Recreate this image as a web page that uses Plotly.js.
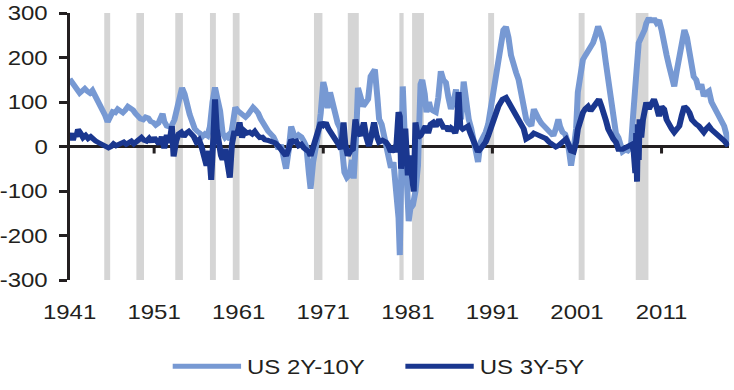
<!DOCTYPE html>
<html>
<head>
<meta charset="utf-8">
<script src="https://cdn.plot.ly/plotly-3.0.1.min.js"></script>
<style>
html,body{margin:0;padding:0;background:#fff;overflow:hidden;width:734px;height:390px;}
#chart{width:612px;height:390px;transform:scale(1.19935,1);transform-origin:0 0;}
</style>
</head>
<body>
<div id="chart"></div>
<script>
// ---- data (basis points) ----
const seriesNames = ["US 2Y-10Y", "US 3Y-5Y"];

const years2y10y = [1941.0,1941.3,1941.6,1941.9,1942.2,1942.5,1942.8,1943.1,1943.4,1943.7,1944.0,1944.3,1944.6,1944.9,1945.2,1945.5,1945.8,1946.1,1946.4,1946.7,1947.0,1947.3,1947.6,1947.9,1948.2,1948.5,1948.8,1949.1,1949.4,1949.7,1950.0,1950.3,1950.6,1950.9,1951.2,1951.5,1951.8,1952.0,1952.2,1952.5,1952.8,1953.1,1953.4,1953.7,1954.0,1954.3,1954.6,1954.9,1955.2,1955.5,1955.8,1956.1,1956.4,1956.7,1957.0,1957.3,1957.6,1957.9,1958.2,1958.5,1958.8,1959.1,1959.4,1959.7,1960.0,1960.3,1960.6,1960.9,1961.2,1961.5,1961.8,1962.1,1962.4,1962.7,1963.0,1963.3,1963.6,1963.9,1964.2,1964.5,1964.8,1965.1,1965.4,1965.7,1966.0,1966.3,1966.6,1966.9,1967.2,1967.5,1967.8,1968.1,1968.4,1968.7,1969.0,1969.3,1969.5,1969.8,1970.1,1970.4,1970.7,1971.0,1971.2,1971.5,1971.8,1972.1,1972.4,1972.7,1973.0,1973.3,1973.5,1973.8,1974.1,1974.4,1974.6,1974.9,1975.1,1975.4,1975.7,1976.0,1976.3,1976.6,1976.9,1977.1,1977.4,1977.6,1977.9,1978.2,1978.5,1978.8,1979.0,1979.3,1979.6,1979.9,1980.05,1980.2,1980.4,1980.6,1980.9,1981.1,1981.3,1981.6,1981.9,1982.2,1982.5,1982.7,1983.0,1983.2,1983.5,1983.7,1984.0,1984.3,1984.6,1984.9,1985.2,1985.5,1985.8,1986.1,1986.4,1986.7,1987.0,1987.3,1987.6,1987.9,1988.2,1988.5,1988.8,1989.1,1989.3,1989.6,1989.9,1990.2,1990.5,1990.8,1991.1,1991.4,1991.7,1992.0,1992.3,1992.6,1992.9,1993.2,1993.5,1993.8,1994.1,1994.4,1994.7,1995.0,1995.3,1995.6,1995.9,1996.2,1996.5,1996.8,1997.1,1997.4,1997.7,1998.0,1998.2,1998.5,1998.8,1999.0,1999.3,1999.6,1999.9,2000.1,2000.3,2000.6,2000.9,2001.1,2001.4,2001.7,2002.0,2002.3,2002.6,2002.9,2003.2,2003.5,2003.8,2004.1,2004.4,2004.7,2005.0,2005.3,2005.6,2005.9,2006.2,2006.4,2006.7,2007.0,2007.2,2007.4,2007.6,2007.8,2008.0,2008.3,2008.6,2008.8,2009.0,2009.2,2009.5,2009.8,2010.1,2010.4,2010.7,2011.0,2011.3,2011.6,2011.9,2012.2,2012.5,2012.8,2013.1,2013.4,2013.7,2014.0,2014.3,2014.6,2014.8,2015.1,2015.4,2015.7,2016.0,2016.3,2016.6,2016.9,2017.2,2017.5,2017.8,2018.1,2018.4,2018.7,2018.9];
const values2y10y = [152,145,135,128,120,125,130,124,120,126,115,108,95,85,70,55,64,78,76,84,80,76,82,90,86,82,74,66,62,60,66,64,56,54,48,52,62,74,56,46,44,48,60,85,112,132,118,92,72,56,40,34,30,22,28,24,45,100,133,106,80,30,20,25,15,50,88,80,74,68,66,72,80,88,82,75,62,52,40,34,28,22,10,-6,4,-22,-50,-10,45,28,18,26,22,12,0,-60,-95,-35,-8,28,75,145,130,86,122,100,70,52,40,-20,-58,-70,-64,-30,-72,30,132,112,90,98,106,158,170,173,110,62,50,22,8,-20,-48,-35,-100,-160,-244,-110,135,40,-72,-168,-140,-132,-101,-43,140,150,118,77,100,84,80,77,110,169,150,144,110,84,100,128,95,61,146,100,61,40,10,-10,-35,10,20,32,50,84,120,157,190,235,262,269,245,205,190,166,150,122,95,61,52,46,84,70,61,52,45,39,32,28,24,40,61,45,32,28,10,-15,-43,-6,40,122,160,195,205,213,225,233,250,270,255,233,190,144,100,61,30,20,-5,-12,-8,-10,-6,5,60,130,160,233,245,254,262,277,289,280,288,278,284,262,240,205,180,160,135,170,200,240,262,245,218,180,157,150,128,140,113,121,125,100,88,78,68,55,46,25,10];

const years3y5y = [1941.0,1941.2,1941.4,1941.6,1941.8,1942.0,1942.3,1942.6,1942.9,1943.2,1943.5,1943.8,1944.1,1944.4,1944.7,1945.0,1945.3,1945.6,1945.9,1946.2,1946.5,1946.8,1947.1,1947.4,1947.7,1948.0,1948.3,1948.6,1948.9,1949.2,1949.5,1949.8,1950.1,1950.4,1950.7,1951.0,1951.3,1951.6,1951.9,1952.2,1952.5,1952.8,1953.1,1953.3,1953.6,1953.9,1954.2,1954.5,1954.8,1955.1,1955.4,1955.7,1956.0,1956.3,1956.6,1956.9,1957.2,1957.5,1957.75,1958.0,1958.2,1958.4,1958.6,1958.9,1959.1,1959.4,1959.7,1959.95,1960.2,1960.5,1960.8,1961.1,1961.4,1961.7,1962.0,1962.3,1962.6,1962.9,1963.2,1963.5,1963.8,1964.1,1964.4,1964.7,1965.0,1965.3,1965.7,1966.0,1966.3,1966.6,1966.9,1967.2,1967.5,1967.8,1968.1,1968.4,1968.7,1969.0,1969.3,1969.5,1969.9,1970.2,1970.5,1970.7,1971.0,1971.3,1971.6,1971.9,1972.2,1972.5,1972.8,1973.1,1973.4,1973.6,1973.9,1974.2,1974.5,1974.8,1975.1,1975.4,1975.8,1976.1,1976.4,1976.7,1977.0,1977.3,1977.6,1978.0,1978.4,1978.7,1979.0,1979.3,1979.6,1979.9,1980.05,1980.2,1980.4,1980.7,1981.0,1981.2,1981.4,1981.7,1981.9,1982.2,1982.5,1982.8,1983.1,1983.4,1983.7,1984.0,1984.3,1984.7,1985.0,1985.3,1985.5,1985.8,1986.1,1986.3,1986.6,1986.8,1987.0,1987.2,1987.5,1987.8,1988.1,1988.4,1988.7,1989.0,1989.3,1989.6,1989.9,1990.2,1990.5,1990.8,1991.1,1991.4,1991.7,1992.0,1992.2,1992.6,1992.9,1993.2,1993.5,1993.8,1994.1,1994.4,1994.7,1995.0,1995.3,1995.6,1995.9,1996.1,1996.5,1997.0,1997.3,1997.7,1998.2,1998.5,1998.8,1999.1,1999.4,1999.7,2000.0,2000.3,2000.6,2000.9,2001.1,2001.4,2001.7,2002.0,2002.3,2002.6,2003.0,2003.3,2003.6,2003.9,2004.1,2004.4,2004.7,2005.0,2005.3,2005.6,2005.9,2006.4,2006.8,2007.2,2007.5,2007.7,2007.9,2008.0,2008.1,2008.2,2008.3,2008.4,2008.6,2008.8,2009.0,2009.2,2009.5,2009.8,2010.1,2010.4,2010.7,2011.0,2011.3,2011.6,2011.9,2012.2,2012.5,2012.8,2013.1,2013.4,2013.7,2014.0,2014.3,2014.6,2014.8,2015.1,2015.4,2015.7,2016.0,2016.3,2016.6,2016.9,2017.2,2017.5,2017.8,2018.1,2018.4,2018.7,2018.9];
const values3y5y = [20,30,14,28,22,38,30,20,25,18,22,15,12,9,6,3,1,-3,0,6,2,4,8,10,5,8,12,6,10,14,20,14,12,18,10,20,14,5,22,-4,26,8,46,-22,12,28,32,22,30,34,28,22,10,15,0,-20,-43,-10,-75,20,106,40,10,-20,-30,-5,-40,-70,5,35,25,54,20,35,30,32,28,34,26,20,21,15,14,12,13,8,1,-6,-12,-21,-5,15,10,12,2,5,-3,-8,-12,-21,8,30,50,54,48,54,40,32,22,17,5,-6,54,5,-21,-10,-6,61,30,24,54,20,1,25,54,25,10,14,10,2,-12,-5,-12,77,68,-50,10,40,-65,-20,-45,-101,54,20,24,38,46,30,50,54,45,61,50,40,46,35,42,39,30,45,122,45,39,42,46,30,17,5,-12,-5,1,10,24,40,61,78,90,100,106,110,100,90,80,68,62,54,40,17,20,24,30,28,25,21,18,10,5,-1,2,6,12,17,5,-10,-12,10,39,60,76,85,90,80,90,98,106,90,80,60,39,25,17,10,-6,-6,-2,1,5,-10,-60,30,-79,50,-30,61,20,60,85,99,84,95,106,90,68,90,84,60,46,40,32,38,46,70,90,85,76,60,54,50,46,38,32,40,46,38,32,28,24,18,13,6,1];

// NBER recession periods (decimal years)
const recessionStart = [1945.1,1948.9,1953.5,1957.6,1960.3,1969.9,1973.9,1980.0,1981.5,1990.5,2001.2,2007.95];
const recessionEnd   = [1945.8,1949.8,1954.4,1958.3,1961.1,1970.9,1975.2,1980.5,1982.9,1991.2,2001.9,2009.45];

const xTickVals = [1941,1951,1961,1971,1981,1991,2001,2011];
const xTickText = ["1941","1951","1961","1971","1981","1991","2001","2011"];
const xTickMarks = [1951,1971,1991,2011];
const yTickVals = [-300,-200,-100,0,100,200,300];
const yTickText = ["-300","-200","-100","0","100","200","300"];

// ---- chart (drawn at 612px wide, stretched horizontally to 734px like the reference) ----
const ink = "#231f20";
const fontFam = "'Liberation Sans', Arial, Helvetica, sans-serif";

const traces = [
  {x: years2y10y, y: values2y10y, name: seriesNames[0], type: "scatter", mode: "lines",
   line: {color: "#7799d3", width: 5}},
  {x: years3y5y, y: values3y5y, name: seriesNames[1], type: "scatter", mode: "lines",
   line: {color: "#1a378f", width: 5}}
];

const shapes = [];
recessionStart.forEach((s, i) => {
  shapes.push({type: "rect", xref: "x", yref: "paper", x0: s, x1: recessionEnd[i], y0: 0, y1: 1,
    fillcolor: "#d5d5d5", line: {width: 0}, layer: "below"});
});
xTickMarks.forEach(t => {
  shapes.push({type: "line", xref: "x", yref: "y", ysizemode: "pixel", yanchor: 0,
    x0: t, x1: t, y0: 0, y1: -7, line: {color: ink, width: 2.5}});
});

const layout = {
  width: 612, height: 390,
  margin: {l: 58.4, r: 4.2, t: 13, b: 108},
  paper_bgcolor: "#ffffff", plot_bgcolor: "#ffffff",
  font: {family: fontFam, color: ink, size: 20},
  showlegend: true,
  legend: {orientation: "h", x: 0.5, xanchor: "center", y: -0.323, yanchor: "middle",
    font: {family: fontFam, size: 20, color: ink}, itemwidth: 57,
    entrywidth: 122, entrywidthmode: "pixels", traceorder: "normal"},
  xaxis: {range: [1941, 2019], tickmode: "array", tickvals: xTickVals, ticktext: xTickText,
    ticks: "", showgrid: false, zeroline: false, showline: false,
    tickfont: {family: fontFam, size: 20, color: ink}, ticklabelstandoff: 18, fixedrange: true},
  yaxis: {range: [-300, 300], tickmode: "array", tickvals: yTickVals, ticktext: yTickText,
    ticks: "outside", ticklen: 6.7, tickwidth: 3, tickcolor: ink,
    showline: true, linecolor: ink, linewidth: 2.5, showgrid: false,
    zeroline: true, zerolinecolor: ink, zerolinewidth: 3,
    tickfont: {family: fontFam, size: 20, color: ink}, ticklabelstandoff: 5, fixedrange: true},
  shapes: shapes
};

Plotly.newPlot("chart", traces, layout, {displayModeBar: false, staticPlot: true});
</script>
</body>
</html>
